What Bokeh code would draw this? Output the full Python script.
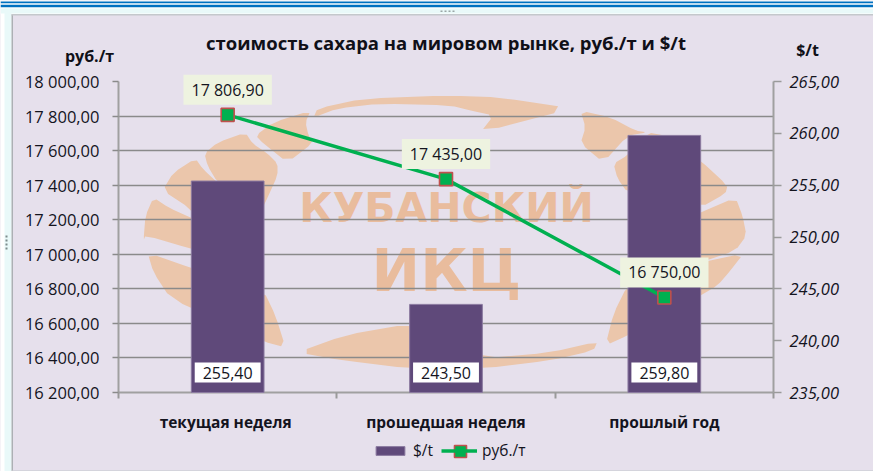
from bokeh.plotting import figure
from bokeh.embed import file_html
from bokeh.resources import INLINE
from bokeh.models import Range1d, LinearAxis, FixedTicker, Legend, LegendItem, Column, Plot
from bokeh.core.properties import value

# ---- data
categories = ["текущая  неделя", "прошедшая неделя", "прошлый год"]
series_names = ["$/t", "руб./т"]
usd_values = [255.40, 243.50, 259.80]
rub_values = [17806.90, 17435.00, 16750.00]
usd_labels = ["255,40", "243,50", "259,80"]
rub_labels = ["17 806,90", "17 435,00", "16 750,00"]
left_ticks = [16200, 16400, 16600, 16800, 17000, 17200, 17400, 17600, 17800, 18000]
left_tick_labels = ["16 200,00", "16 400,00", "16 600,00", "16 800,00", "17 000,00",
                    "17 200,00", "17 400,00", "17 600,00", "17 800,00", "18 000,00"]
right_ticks = [235, 240, 245, 250, 255, 260, 265]
right_tick_labels = ["235,00", "240,00", "245,00", "250,00", "255,00", "260,00", "265,00"]
title_text = "стоимость сахара на мировом рынке, руб./т и $/t"
left_title = "руб./т"
right_title = "$/t"

x_centers = [i + 0.5 for i in range(len(categories))]

FONT = "Open Sans"
PANEL = "#E6E0EC"
INK = "#14141E"
BAR = "#5F497A"
GREEN = "#00B050"
RED = "#C0504D"
W, H = 873, 471
FL, FR, FT, FB = 118, 773, 81, 392       # plot frame in page pixels
YMIN, YMAX = left_ticks[0], left_ticks[-1]
UMIN, UMAX = right_ticks[0], right_ticks[-1]
XMIN, XMAX = 0, len(categories)


def full_layer(x_range, y_range, fill=None):
    """A figure whose frame is the whole page, nothing round it."""
    return figure(width=W, height=H, output_backend="svg", toolbar_location=None,
                  x_range=x_range, y_range=y_range, x_axis_type=None, y_axis_type=None,
                  min_border=0, min_border_left=0, min_border_right=0,
                  min_border_top=0, min_border_bottom=0, outline_line_color=None,
                  background_fill_color=fill, border_fill_color=fill)


# ---------- bottom layer: page chrome and the watermark
under = full_layer(Range1d(0, W), Range1d(H, 0), PANEL)


def box(l, r, t, b, color):
    under.quad(left=l, right=r, top=t, bottom=b, fill_color=color, line_color=None)


box(0, W, 0, 14, "#FFFFFF")
box(0, 12, 0, H, "#FFFFFF")
box(4, 11, 8, H, "#E9F9F9")
box(0, W, 8, 13, "#E9F9F9")
box(0, W, 1, 2.7, "#0070C0")
box(0, W, 4.3, 6.7, "#0070C0")
box(11, 12.5, 14, H, "#ACB0B4")
box(11, W, 13.5, 15, "#C4C8CC")
box(12, W, 469.5, H, "#D4D4DC")
for dot_y in (235, 239, 243, 247):
    box(5, 7, dot_y, dot_y + 2, "#7C8C8C")
for dot_x in (440, 444, 448, 452):
    box(dot_x, dot_x + 2, 10, 11.5, "#9AA6A6")


def smooth(points, n=1):
    pts = list(points)
    for _ in range(n):
        out = []
        for i in range(len(pts)):
            a, b = pts[i], pts[(i + 1) % len(pts)]
            out.append((0.8 * a[0] + 0.2 * b[0], 0.8 * a[1] + 0.2 * b[1]))
            out.append((0.2 * a[0] + 0.8 * b[0], 0.2 * a[1] + 0.8 * b[1]))
        pts = out
    return pts


logo_leaves = [
    [(313, 117), (317, 108), (363, 98), (450, 95), (500, 97), (572, 108), (480, 132), (493, 115), (470, 110), (450, 105), (380, 103), (337, 108)],
    [(255, 135), (273, 122), (310, 110), (305, 122), (308, 135), (313, 142), (287, 162), (263, 143)],
    [(204, 153), (217, 142), (245, 132), (252, 143), (267, 153), (277, 163), (277, 175), (268, 195), (260, 212), (217, 182), (207, 165)],
    [(162, 190), (173, 172), (195, 158), (202, 168), (220, 185), (210, 235), (190, 208)],
    [(153, 197), (168, 207), (192, 218), (210, 225), (200, 250), (190, 248), (145, 235), (143, 240), (145, 215)],
    [(147, 252), (192, 268), (263, 290), (275, 315), (285, 347), (263, 341), (230, 325), (170, 298), (153, 272)],
    [(297, 352), (343, 335), (410, 323), (446, 335), (482, 358), (550, 352), (597, 341), (593, 350), (550, 360), (482, 368), (410, 368), (343, 360)],
    [(605, 345), (613, 313), (627, 285), (660, 270), (700, 262), (743, 253), (730, 270), (717, 285), (700, 295), (665, 315), (627, 335)],
    [(700, 212), (735, 197), (742, 215), (746, 235), (735, 250), (700, 262), (660, 255), (660, 230)],
    [(613, 163), (627, 155), (647, 132), (665, 135), (700, 160), (727, 185), (725, 193), (700, 207), (627, 192), (617, 178)],
    [(580, 110), (610, 117), (635, 130), (647, 132), (627, 135), (603, 162), (580, 143), (585, 127)],
]
for leaf in logo_leaves:
    pts = smooth(leaf)
    under.patch([q[0] for q in pts], [q[1] for q in pts], fill_color="#EBC6AB", line_color=None)

under.text(x=[446], y=[207], text=["КУБАНСКИЙ"], text_font=value("DejaVu Sans"), text_font_style="bold",
           text_font_size="41px", text_color="#E9BC9D", text_align="center", text_baseline="middle")
under.text(x=[446], y=[270], text=["ИКЦ"], text_font=value("DejaVu Sans"), text_font_style="bold",
           text_font_size="58px", text_color="#E9BC9D", text_align="center", text_baseline="middle")

# ---------- middle layer: grid and axes
axes = figure(width=W, height=H, output_backend="svg", toolbar_location=None,
              x_range=Range1d(XMIN, XMAX), y_range=Range1d(YMIN, YMAX),
              min_border_left=FL, min_border_right=W - FR, min_border_top=FT, min_border_bottom=H - FB,
              background_fill_color=None, border_fill_color=None, outline_line_color=None)
axes.extra_y_ranges = {"usd": Range1d(UMIN, UMAX)}

grid = axes.ygrid[0]
grid.ticker = FixedTicker(ticks=left_ticks)
grid.grid_line_color = "#8A8A8A"
grid.grid_line_width = 1.6
axes.xgrid.visible = False

ax_x = axes.xaxis[0]
ax_x.ticker = FixedTicker(ticks=x_centers, minor_ticks=list(range(len(categories) + 1)))
ax_x.major_label_overrides = dict(zip(x_centers, categories))
ax_x.major_tick_in = 0
ax_x.major_tick_out = 0
ax_x.minor_tick_in = 0
ax_x.minor_tick_out = 6
ax_x.minor_tick_line_color = "#9A9A9A"
ax_x.minor_tick_line_width = 2
ax_x.axis_line_color = "#A0A0A0"
ax_x.axis_line_width = 2
ax_x.major_label_standoff = 12
ax_x.major_label_text_font = FONT
ax_x.major_label_text_font_style = "bold"
ax_x.major_label_text_font_size = "15.5px"
ax_x.major_label_text_color = INK

ax_l = axes.yaxis[0]
ax_l.ticker = FixedTicker(ticks=left_ticks)
ax_l.major_label_overrides = dict(zip(left_ticks, left_tick_labels))
ax_l.major_tick_in = 0
ax_l.major_tick_out = 6
ax_l.major_tick_line_color = "#8A8A8A"
ax_l.major_tick_line_width = 1.6
ax_l.minor_tick_line_color = None
ax_l.axis_line_color = "#A0A0A0"
ax_l.axis_line_width = 2
ax_l.major_label_standoff = 13
ax_l.major_label_text_font = FONT
ax_l.major_label_text_font_size = "16.5px"
ax_l.major_label_text_color = INK

ax_r = LinearAxis(y_range_name="usd", ticker=FixedTicker(ticks=right_ticks))
ax_r.major_label_overrides = dict(zip(right_ticks, right_tick_labels))
ax_r.major_tick_in = 0
ax_r.major_tick_out = 8
ax_r.major_tick_line_color = "#9A9A9A"
ax_r.major_tick_line_width = 1.6
ax_r.minor_tick_line_color = None
ax_r.axis_line_color = "#A0A0A0"
ax_r.axis_line_width = 2
ax_r.major_label_standoff = 8
ax_r.major_label_text_font = FONT
ax_r.major_label_text_font_style = "italic"
ax_r.major_label_text_font_size = "16.5px"
ax_r.major_label_text_color = INK
axes.add_layout(ax_r, "right")


# ---------- top layer: series, data labels, titles, legend
# its frame is the whole page; its ranges extend the chart's scales out to the page edges
def stretched(lo, hi, px_lo, px_hi, px_start, px_end):
    per_px = (hi - lo) / (px_hi - px_lo)
    return Range1d(lo + (px_start - px_lo) * per_px, lo + (px_end - px_lo) * per_px)


top = full_layer(stretched(XMIN, XMAX, FL, FR, 0, W), stretched(YMIN, YMAX, FB, FT, H, 0))
top.extra_y_ranges = {"usd": stretched(UMIN, UMAX, FB, FT, H, 0), "py": Range1d(H, 0)}
top.extra_x_ranges = {"px": Range1d(0, W)}

bars = top.vbar(x=x_centers, top=usd_values, bottom=UMIN, width=0.333, fill_color=BAR,
                line_color="#8B7AA0", line_width=1, y_range_name="usd")
line = top.line(x_centers, rub_values, line_color=GREEN, line_width=3.5)
marks = top.scatter(x_centers, rub_values, marker="square", size=13, fill_color=GREEN,
                    line_color=RED, line_width=1.6)

top.text(x=x_centers, y=rub_values, text=rub_labels, text_font=value(FONT), text_font_size="16px",
         text_color=INK, text_align="center", text_baseline="middle", y_offset=-25,
         background_fill_color="#EEF3E0", padding=(8, 4))
top.text(x=x_centers, y=[UMIN] * len(x_centers), text=usd_labels, text_font=value(FONT), text_font_size="16px",
         text_color=INK, text_align="center", text_baseline="middle", y_offset=-20,
         background_fill_color="#FFFFFF", padding=(8, 4), y_range_name="usd")


def label(x, y, text, size):
    top.text(x=[x], y=[y], text=[text], text_font=value(FONT), text_font_size=size, text_font_style="bold",
             text_color="#101018", text_align="center", text_baseline="middle",
             x_range_name="px", y_range_name="py")


label(445.5, 42, title_text, "18.5px")
label(89, 55, left_title, "16px")
label(807, 49, right_title, "16px")

# the legend's own marker is tiny, so a full-size one is laid over it
top.scatter([460], [451], marker="square", size=12, fill_color=GREEN, line_color=RED, line_width=1.6,
            x_range_name="px", y_range_name="py", level="overlay")
legend = Legend(items=[LegendItem(label=series_names[0], renderers=[bars]),
                       LegendItem(label=series_names[1], renderers=[line])],
                orientation="horizontal", location=(372, 10), padding=0, margin=0, spacing=8,
                glyph_width=36, glyph_height=11, label_standoff=5,
                label_text_font=FONT, label_text_font_size="15.5px", label_text_color=INK,
                background_fill_alpha=0, border_line_color=None)
top.add_layout(legend, "center")

# a column lines its plots' frames up by default; each layer here keeps its own frame
if "frame_align" in Plot.properties():
    for layer in (under, axes, top):
        layer.frame_align = False

# the three layers sit in one place on the page, one over the other
axes.styles = {"position": "relative", "top": f"-{H}px"}
top.styles = {"position": "relative", "top": f"-{2 * H}px"}
page = Column(children=[under, axes, top], width=W, height=H, spacing=0,
              styles={"position": "absolute", "left": "0", "top": "0", "overflow": "hidden"})
open("out.html", "w").write(file_html(page, INLINE))
